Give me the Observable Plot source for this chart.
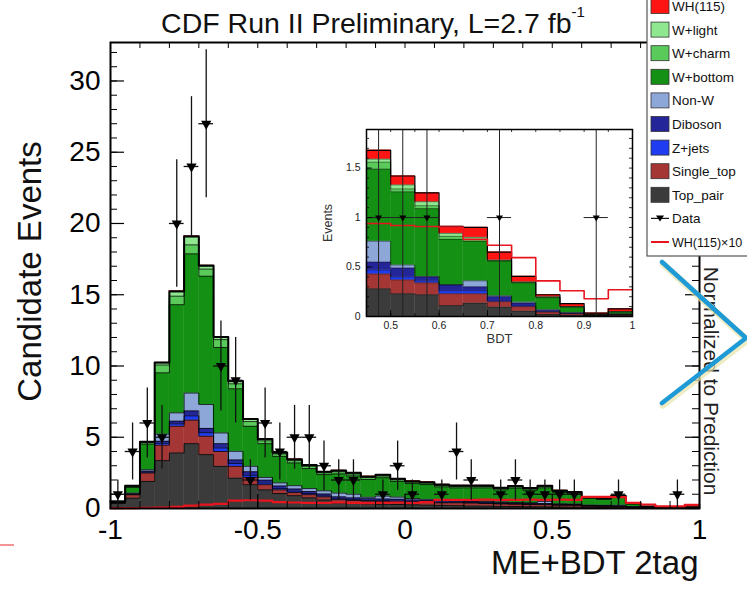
<!DOCTYPE html>
<html><head><meta charset="utf-8">
<script src="https://cdn.jsdelivr.net/npm/d3@7"></script>
<script src="https://cdn.jsdelivr.net/npm/@observablehq/plot@0.6"></script>
<style>
html,body{margin:0;padding:0;background:#fff;}
#wrap{position:relative;width:747px;height:593px;overflow:hidden;}
#wrap > *{position:absolute;}
</style></head><body><div id="wrap"></div>
<script>
const FONT = '"Liberation Sans", Arial, Helvetica, sans-serif';

// ---------- main histogram (ME+BDT 2tag, 40 bins of 0.05 from -1 to 1) ----------
const binEdges = d3.range(40).map(i => +(-1 + i * 0.05).toFixed(2));
const binWidth = 0.05;

const topPair   = [0.35,0.73,1.90,3.36,3.90,4.55,3.78,2.96,2.13,1.67,1.31,1.05,0.90,0.75,0.60,0.40,0.36,0.32,0.30,0.28,0.26,0.24,0.22,0.20,0.18,0.17,0.15,0.14,0.13,0.12,0.11,0.10,0.08,0.07,0.06,0.04,0.03,0.02,0.01,0.01];
const singleTop = [0.05,0.23,0.59,1.08,1.87,1.65,1.29,1.04,0.83,0.51,0.36,0.26,0.22,0.22,0.22,0.22,0.20,0.20,0.20,0.20,0.20,0.18,0.18,0.20,0.20,0.18,0.17,0.16,0.15,0.15,0.12,0.12,0.08,0.08,0.08,0.04,0.02,0.01,0.01,0.01];
const zJets     = [0.02,0.03,0.06,0.14,0.17,0.30,0.25,0.25,0.20,0.15,0.12,0.10,0.10,0.08,0.07,0.06,0.06,0.05,0.05,0.05,0.04,0.04,0.04,0.04,0.04,0.03,0.03,0.03,0.03,0.03,0.02,0.02,0.02,0.02,0.01,0.01,0,0,0,0];
const diboson   = [0.03,0.04,0.07,0.14,0.19,0.35,0.30,0.30,0.25,0.25,0.20,0.17,0.15,0.14,0.13,0.14,0.13,0.12,0.12,0.12,0.10,0.10,0.10,0.08,0.08,0.07,0.06,0.05,0.05,0.05,0.04,0.04,0.03,0.03,0.03,0.02,0.01,0.01,0,0];
const nonW      = [0.05,0.05,0.10,0.50,0.58,1.25,1.68,0.75,0.60,0.38,0.19,0.22,0.23,0.21,0.22,0.26,0.25,0.10,0.20,0.15,0.10,0.08,0.10,0.06,0.06,0.05,0.05,0.04,0.05,0.15,0.04,0.04,0.03,0.03,0.05,0.02,0.01,0,0,0];
const wBottom   = [0,0.40,1.80,4.30,7.59,9.77,9.00,6.00,4.39,2.81,2.37,1.86,1.60,1.40,1.14,1.35,1.29,1.25,1.29,1.10,1.05,1.04,0.88,0.87,0.89,0.95,0.85,1.01,0.87,0.95,0.81,0.71,0.47,0.41,0.55,0.19,0.04,0.04,0.02,0.05];
const wCharm    = [0,0.08,0.10,0.55,0.60,0.63,0.50,0.55,0.35,0.33,0.20,0.17,0.16,0.16,0.12,0.15,0.13,0.13,0.12,0.11,0.10,0.10,0.09,0.09,0.09,0.09,0.08,0.08,0.08,0.08,0.06,0.06,0.04,0.04,0.04,0.02,0.01,0,0,0];
const wLight    = [0,0.04,0.05,0.15,0.30,0.55,0.20,0.15,0.15,0.15,0.09,0.07,0.07,0.07,0.06,0.07,0.06,0.06,0.06,0.05,0.05,0.05,0.05,0.05,0.05,0.05,0.04,0.04,0.04,0.04,0.03,0.03,0.02,0.02,0.02,0.01,0.01,0,0,0];
const wh115     = [0,0,0.01,0.02,0.05,0.05,0.05,0.04,0.04,0.03,0.03,0.03,0.02,0.02,0.02,0.02,0.02,0.02,0.02,0.02,0.02,0.02,0.02,0.02,0.02,0.02,0.02,0.03,0.03,0.03,0.03,0.03,0.03,0.03,0.03,0.02,0.01,0.01,0.01,0.02];
const wh115x10  = [0.02,0.03,0.05,0.07,0.12,0.20,0.27,0.33,0.55,0.58,0.55,0.45,0.42,0.40,0.40,0.42,0.40,0.38,0.40,0.42,0.40,0.45,0.60,0.60,0.60,0.62,0.60,0.60,0.62,0.60,0.62,0.60,0.82,0.82,0.80,0.40,0.28,0.15,0.15,0.26];
const dataCounts = [1,4,6,5,20,24,27,10,9,2,6,4,5,5,3,2,2,0,1,3,1,0,1,4,2,0,1,2,1,1,1,1,0,0,1,0,0,0,1,0];

// ---------- inset (BDT 0.45 - 1, 11 bins) ----------
const insetEdges = [0.45,0.50,0.55,0.60,0.65,0.70,0.75,0.80,0.85,0.90,0.95];
const insetTopPair   = [0.28,0.23,0.22,0.11,0.135,0.095,0.054,0.02,0.01,0,0.01];
const insetSingleTop = [0.15,0.14,0.12,0.12,0.095,0.055,0.046,0.024,0.017,0.005,0.01];
const insetZJets     = [0.04,0.03,0.02,0.03,0.03,0.01,0.01,0.006,0.003,0,0];
const insetDiboson   = [0.08,0.09,0.04,0.06,0.04,0.04,0.025,0.01,0.005,0.005,0.005];
const insetNonW      = [0.21,0.03,0.005,0,0.06,0.01,0.01,0.01,0.005,0,0];
const insetWBottom   = [0.73,0.74,0.685,0.46,0.40,0.35,0.195,0.12,0.055,0.01,0.019];
const insetWCharm    = [0.07,0.03,0.03,0.03,0.02,0.005,0.005,0.005,0.005,0,0.006];
const insetWLight    = [0.03,0.04,0.04,0.03,0.02,0.005,0.005,0.005,0,0,0];
const insetWH        = [0.09,0.09,0.09,0.07,0.10,0.08,0.055,0.02,0.03,0.014,0.028];
const insetWHx10     = [0.94,0.92,0.91,0.905,0.78,0.72,0.595,0.36,0.26,0.18,0.27];
const insetData      = [1,1,1,0,0,1,0,0,0,1,0];

// ---------- labels / ticks / colours ----------
const layerNames  = ["Top_pair","Single_top","Z+jets","Diboson","Non-W","W+bottom","W+charm","W+light","WH(115)"];
const layerColors = ["#3b3b3b","#a53636","#1f3cf0","#25259a","#8ea7d9","#149014","#5acb5a","#8fe88f","#ff1414"];
const legendLabels = ["WH(115)","W+light","W+charm","W+bottom","Non-W","Diboson","Z+jets","Single_top","Top_pair","Data","WH(115)\u00d710"];
const xTickLabels = [-1,-0.5,0,0.5,1];
const yTickLabels = [0,5,10,15,20,25,30];
const insetXTickLabels = [0.5,0.6,0.7,0.8,0.9,1];
const insetYTickLabels = [0,0.5,1,1.5];
const titleText = "CDF Run II Preliminary, L=2.7 fb";
const titleSup = "-1";
const xLabel = "ME+BDT 2tag";
const yLabel = "Candidate Events";
const sideText = "Normalized to Prediction";

// ---------- helpers ----------
function buildStack(edges, width, series, xEnd) {
  const n = edges.length;
  const cum = new Array(n).fill(0);
  const rects = [], lines = [];
  series.forEach((vals, k) => {
    const name = layerNames[k];
    vals.forEach((v, i) => {
      if (v > 0) rects.push({layer: name, x1: edges[i], x2: +(edges[i] + width).toFixed(3), y1: cum[i], y2: cum[i] + v});
      cum[i] += v;
    });
    edges.forEach((e, i) => lines.push({layer: name, x: e, y: cum[i], top: k === series.length - 1}));
    lines.push({layer: name, x: xEnd, y: cum[n - 1], top: k === series.length - 1});
  });
  return {rects, lines};
}
function stepLine(edges, vals, xEnd) {
  const pts = edges.map((e, i) => ({x: e, y: vals[i]}));
  pts.push({x: xEnd, y: vals[vals.length - 1]});
  return pts;
}
function points(edges, width, counts) {
  return counts.map((c, i) => ({xc: edges[i] + width / 2, lo: edges[i], hi: edges[i] + width, n: c})).filter(d => d.n > 0);
}

const mainStack = buildStack(binEdges, binWidth,
  [topPair, singleTop, zJets, diboson, nonW, wBottom, wCharm, wLight, wh115], 1);
const mainData = points(binEdges, binWidth, dataCounts);
const mainWH10 = stepLine(binEdges, wh115x10, 1);

const insetStack = buildStack(insetEdges, 0.05,
  [insetTopPair, insetSingleTop, insetZJets, insetDiboson, insetNonW, insetWBottom, insetWCharm, insetWLight, insetWH], 1);
const insetPts = points(insetEdges, 0.05, insetData);
const insetWH10 = stepLine(insetEdges, insetWHx10, 1);

const Y_TOP = 32.7;
const mxMinor = d3.range(-10, 11).map(i => i / 10);
const mxMajor = xTickLabels;
const myMinor = d3.range(0, 33);
const myMajor = yTickLabels;

const wrap = document.getElementById("wrap");

// ---------- main plot ----------
const main = Plot.plot({
  width: 747, height: 593,
  marginLeft: 110, marginRight: 48, marginTop: 42, marginBottom: 85,
  x: {domain: [-1, 1]},
  y: {domain: [0, Y_TOP]},
  color: {domain: layerNames, range: layerColors},
  style: {fontFamily: FONT, background: "transparent", color: "#000", overflow: "visible"},
  marks: [
    Plot.rect(mainStack.rects, {x1: "x1", x2: "x2", y1: "y1", y2: "y2", fill: "layer", stroke: "layer", strokeWidth: 0.4}),
    Plot.line(mainStack.lines.filter(d => !d.top), {x: "x", y: "y", z: "layer", curve: "step-after", stroke: "#000", strokeOpacity: 0.75, strokeWidth: 1}),
    Plot.line(mainStack.lines.filter(d => d.top), {x: "x", y: "y", curve: "step-after", stroke: "#000", strokeWidth: 2}),
    Plot.line(mainWH10, {x: "x", y: "y", curve: "step-after", stroke: "#e8141e", strokeWidth: 2.2}),
    Plot.ruleX(mainData, {x: "xc", y1: d => Math.max(0, d.n - Math.sqrt(d.n)), y2: d => d.n + Math.sqrt(d.n), stroke: "#111", strokeWidth: 1.3}),
    Plot.ruleY(mainData, {y: "n", x1: "lo", x2: "hi", stroke: "#111", strokeWidth: 1.3}),
    Plot.dot(mainData, {x: "xc", y: "n", symbol: "triangle", rotate: 180, fill: "#000", stroke: "none", r: 3.8}),
    // inward ticks
    Plot.ruleY(myMinor, {y: d => d, x1: -1, x2: -1 + 7 / 294.5, stroke: "#000", strokeWidth: 1}),
    Plot.ruleY(myMajor, {y: d => d, x1: -1, x2: -1 + 14 / 294.5, stroke: "#000", strokeWidth: 1.2}),
    Plot.ruleY(myMinor, {y: d => d, x1: 1 - 7 / 294.5, x2: 1, stroke: "#000", strokeWidth: 1}),
    Plot.ruleY(myMajor, {y: d => d, x1: 1 - 14 / 294.5, x2: 1, stroke: "#000", strokeWidth: 1.2}),
    Plot.ruleX(mxMinor, {x: d => d, y1: 0, y2: 7 / 14.25, stroke: "#000", strokeWidth: 1}),
    Plot.ruleX(mxMajor, {x: d => d, y1: 0, y2: 14 / 14.25, stroke: "#000", strokeWidth: 1.2}),
    Plot.ruleX(mxMinor, {x: d => d, y1: Y_TOP - 6 / 14.25, y2: Y_TOP, stroke: "#000", strokeWidth: 1}),
    Plot.frame({stroke: "#000", strokeWidth: 2}),
    Plot.axisX({ticks: xTickLabels, tickSize: 0, tickPadding: 11, fontSize: 28, tickFormat: d => String(d), label: null}),
    Plot.axisY({ticks: yTickLabels, tickSize: 0, tickPadding: 10, fontSize: 28, tickFormat: d => String(d), label: null}),
    Plot.text([xLabel], {text: d => d, frameAnchor: "bottom-right", dx: -1, dy: 65, textAnchor: "end", fontSize: 33, fill: "#111"}),
    Plot.text([yLabel], {text: d => d, frameAnchor: "left", dx: -80, dy: -4, rotate: -90, textAnchor: "middle", fontSize: 33, fill: "#111"})
  ]
});
main.style.left = "0px"; main.style.top = "0px";
wrap.appendChild(main);

// ---------- inset plot ----------
const ixMinor = d3.range(9, 21).map(i => i / 20);
const iyMinor = d3.range(0, 19).map(i => i / 10);
const inset = Plot.plot({
  width: 327, height: 230,
  marginLeft: 51, marginRight: 10, marginTop: 9, marginBottom: 34,
  x: {domain: [0.45, 1]},
  y: {domain: [0, 1.89]},
  color: {domain: layerNames, range: layerColors},
  style: {fontFamily: FONT, background: "transparent", color: "#222", overflow: "visible"},
  marks: [
    Plot.frame({fill: "#fff", stroke: null}),
    Plot.rect(insetStack.rects, {x1: "x1", x2: "x2", y1: "y1", y2: "y2", fill: "layer", stroke: "layer", strokeWidth: 0.3}),
    Plot.line(insetStack.lines.filter(d => !d.top), {x: "x", y: "y", z: "layer", curve: "step-after", stroke: "#000", strokeOpacity: 0.6, strokeWidth: 0.7}),
    Plot.line(insetStack.lines.filter(d => d.top), {x: "x", y: "y", curve: "step-after", stroke: "#000", strokeWidth: 1.2}),
    Plot.line(insetWH10, {x: "x", y: "y", curve: "step-after", stroke: "#e8141e", strokeWidth: 1.6}),
    Plot.ruleX(insetPts, {x: "xc", y1: d => Math.max(0, d.n - Math.sqrt(d.n)), y2: d => d.n + Math.sqrt(d.n), stroke: "#222", strokeWidth: 1, clip: true}),
    Plot.ruleY(insetPts, {y: "n", x1: "lo", x2: "hi", stroke: "#222", strokeWidth: 1}),
    Plot.dot(insetPts, {x: "xc", y: "n", symbol: "triangle", rotate: 180, fill: "#000", stroke: "none", r: 2.6}),
    Plot.ruleY(iyMinor, {y: d => d, x1: 0.45, x2: 0.45 + 3 / 483.6, stroke: "#000", strokeWidth: 0.8}),
    Plot.ruleY(insetYTickLabels, {y: d => d, x1: 0.45, x2: 0.45 + 6 / 483.6, stroke: "#000", strokeWidth: 0.9}),
    Plot.ruleY(iyMinor, {y: d => d, x1: 1 - 3 / 483.6, x2: 1, stroke: "#000", strokeWidth: 0.8}),
    Plot.ruleX(ixMinor, {x: d => d, y1: 0, y2: 3 / 98.9, stroke: "#000", strokeWidth: 0.8}),
    Plot.ruleX(insetXTickLabels, {x: d => d, y1: 0, y2: 6 / 98.9, stroke: "#000", strokeWidth: 0.9}),
    Plot.ruleX(ixMinor, {x: d => d, y1: 1.89 - 3 / 98.9, y2: 1.89, stroke: "#000", strokeWidth: 0.8}),
    Plot.frame({stroke: "#000", strokeWidth: 1.5}),
    Plot.axisX({ticks: insetXTickLabels, tickSize: 0, tickPadding: 5, fontSize: 10.5, tickFormat: d => String(d), label: null}),
    Plot.axisY({ticks: insetYTickLabels, tickSize: 0, tickPadding: 6, fontSize: 10.5, tickFormat: d => String(d), label: null}),
    Plot.text(["BDT"], {text: d => d, frameAnchor: "bottom", dy: 26, fontSize: 13, fill: "#333"}),
    Plot.text(["Events"], {text: d => d, frameAnchor: "left", dx: -39, rotate: -90, textAnchor: "middle", fontSize: 12.5, fill: "#333"})
  ]
});
inset.style.left = "315px"; inset.style.top = "120px";
wrap.appendChild(inset);

// ---------- overlay: title, legend, side annotation ----------
const svg = d3.create("svg").attr("width", 747).attr("height", 593)
  .style("left", "0px").style("top", "0px").style("font-family", FONT);

const title = svg.append("text").attr("x", 373).attr("y", 33).attr("text-anchor", "middle")
  .attr("font-size", 28.5).attr("fill", "#111");
title.append("tspan").text(titleText);
title.append("tspan").attr("dy", -16).attr("font-size", 15).text(titleSup);

// stray red mark at bottom left
svg.append("line").attr("x1", 0).attr("x2", 14).attr("y1", 545).attr("y2", 545)
  .attr("stroke", "#f07070").attr("stroke-width", 1.5);

// legend
const colorOf = name => layerColors[layerNames.indexOf(name)];
const lg = svg.append("g");
lg.append("rect").attr("x", 647).attr("y", -4).attr("width", 110).attr("height", 260)
  .attr("fill", "#fff").attr("stroke", "#555").attr("stroke-width", 1.2);
legendLabels.forEach((lab, i) => {
  const cy = 6 + i * 23.6;
  if (i < 9) {
    lg.append("rect").attr("x", 651).attr("y", cy - 7.5).attr("width", 18).attr("height", 15)
      .attr("fill", colorOf(lab)).attr("stroke", "#333").attr("stroke-width", 0.8);
  } else if (i === 9) {
    lg.append("line").attr("x1", 651).attr("x2", 669).attr("y1", cy).attr("y2", cy).attr("stroke", "#111").attr("stroke-width", 1.2);
    lg.append("path").attr("d", `M${656},${cy - 3} L${664},${cy - 3} L${660},${cy + 3} Z`).attr("fill", "#000");
  } else {
    lg.append("line").attr("x1", 651).attr("x2", 669).attr("y1", cy).attr("y2", cy).attr("stroke", "#e8141e").attr("stroke-width", 2);
  }
  lg.append("text").attr("x", 672).attr("y", cy + 5).attr("font-size", i === 10 ? 12.5 : 13.5).attr("fill", "#111").text(lab);
});

// side annotation
svg.append("text").attr("transform", "translate(711,381) rotate(90)").attr("text-anchor", "middle")
  .attr("dominant-baseline", "central").attr("font-size", 21).attr("fill", "#222").text(sideText);
svg.append("path").attr("d", "M663,264 L747,340 L663,405").attr("fill", "none")
  .attr("stroke", "#e8e2a8").attr("stroke-opacity", 0.7).attr("stroke-width", 7).attr("stroke-linecap", "round");
svg.append("path").attr("d", "M662,262 L746,338 L662,403").attr("fill", "none")
  .attr("stroke", "#1e9ad6").attr("stroke-width", 4.5).attr("stroke-linecap", "round");

wrap.appendChild(svg.node());
</script></body></html>
